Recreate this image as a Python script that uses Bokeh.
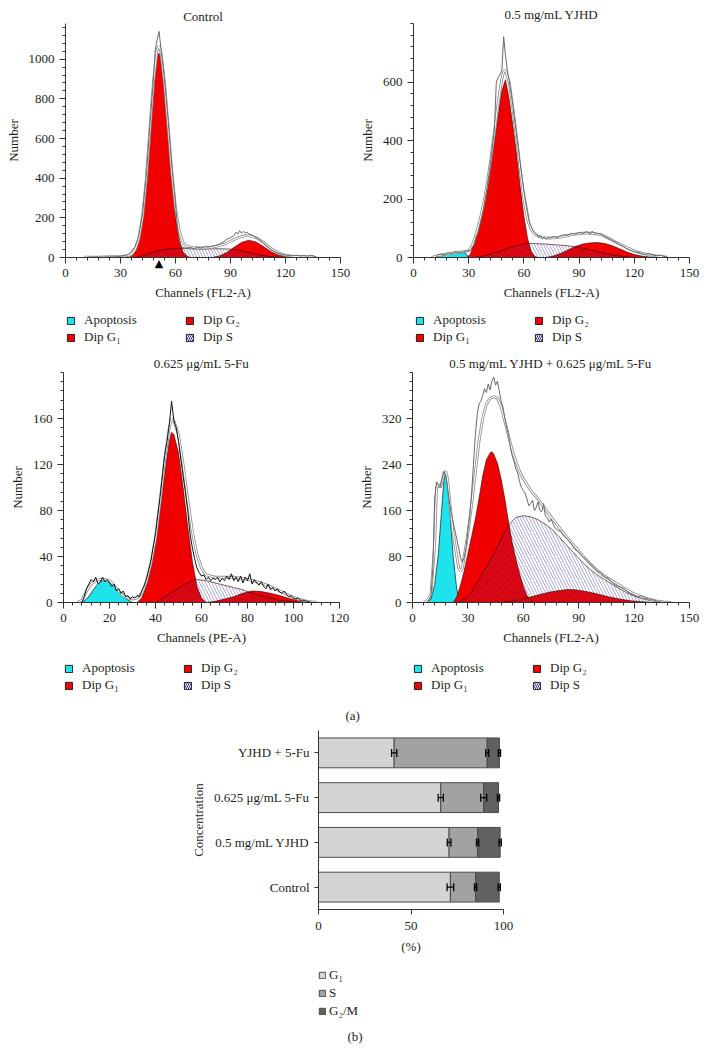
import numpy as np
from bokeh.plotting import figure
from bokeh.layouts import column, row
from bokeh.models import (Range1d, FactorRange, FixedTicker, Legend, LegendItem, Title, LinearAxis,
                          Whisker, TeeHead, ColumnDataSource)
from bokeh.embed import file_html
from bokeh.resources import INLINE

FONT = "Liberation Serif"
TXT = "#231f20"
RED = "#f00000"
CYAN = "#1ee3ec"
OUTL = "#3a0808"
HATCH = "#2a2a88"

# ---------------- data: Control ----------------
ctrl_g1 = [(34, 0), (36, 6), (38, 28), (40, 85), (42, 195), (44, 385), (46, 630), (48, 880), (50, 1020),
           (51, 1030), (52, 1005), (54, 850), (56, 620), (58, 390), (60, 205), (62, 90), (64, 30), (66, 8), (68, 0)]
ctrl_s = [(38, 0), (42, 8), (46, 20), (50, 32), (54, 41), (58, 45), (62, 46), (66, 45), (70, 43), (74, 42),
          (78, 43), (82, 44), (86, 44), (90, 42), (94, 37), (98, 29), (102, 21), (106, 13), (110, 7), (114, 3), (118, 0)]
ctrl_g2 = [(80, 0), (84, 8), (88, 25), (92, 52), (96, 76), (100, 87), (104, 78), (108, 55), (112, 30),
           (116, 12), (120, 4), (124, 0)]
ctrl_fit = [(10, 2), (20, 3), (30, 5), (34, 10), (36, 16), (38, 40), (40, 95), (42, 205), (44, 390), (46, 640),
            (48, 890), (50, 1050), (51, 1065), (52, 1040), (54, 880), (56, 660), (58, 430), (60, 250), (62, 135),
            (64, 78), (66, 56), (70, 50), (74, 48), (78, 50), (82, 56), (86, 66), (90, 82), (94, 100), (98, 110),
            (100, 110), (104, 100), (108, 76), (112, 46), (116, 24), (120, 12), (124, 6), (128, 4), (132, 3), (136, 2)]
ctrl_raw = [(12, 2), (16, 3), (20, 2), (24, 4), (26, 3), (28, 6), (30, 5), (32, 10), (34, 14), (35, 24), (36, 32),
            (38, 55), (40, 110), (42, 220), (44, 405), (46, 665), (48, 905), (49, 1050), (50, 1100), (51, 1140),
            (52, 1060), (54, 900), (56, 690), (58, 460), (60, 270), (61, 160), (62, 92), (63, 62), (64, 50), (66, 46),
            (68, 52), (70, 45), (72, 52), (74, 48), (76, 55), (78, 52), (80, 58), (82, 60), (84, 68), (86, 78),
            (88, 92), (90, 100), (92, 112), (93, 128), (94, 118), (95, 135), (96, 122), (97, 132), (98, 125),
            (99, 128), (100, 118), (102, 112), (104, 100), (106, 88), (108, 72), (110, 56), (112, 40), (114, 30),
            (116, 22), (118, 16), (120, 12), (122, 10), (124, 9), (126, 12), (128, 8), (130, 10), (132, 7),
            (134, 12), (136, 5), (137, 2)]
ctrl_marker_channel = 51

# ---------------- data: 0.5 mg/mL YJHD ----------------
yj_apop = [(12, 0), (14, 5), (16, 9), (18, 12), (20, 14), (22, 16), (24, 17), (26, 17), (28, 15), (29, 9), (30, 0)]
yj_g1 = [(29, 0), (31, 12), (34, 72), (36, 115), (38, 165), (40, 230), (42, 315), (44, 400), (46, 485), (48, 570),
         (50, 608), (52, 540), (54, 450), (56, 354), (58, 240), (60, 140), (62, 65), (64, 20), (66, 3), (68, 0)]
yj_s = [(34, 0), (40, 8), (46, 20), (52, 32), (56, 40), (60, 46), (64, 48), (68, 47), (72, 46), (76, 44), (80, 42),
        (84, 40), (88, 36), (92, 32), (96, 26), (100, 20), (104, 14), (108, 9), (112, 5), (116, 2), (120, 0)]
yj_g2 = [(72, 0), (76, 5), (80, 14), (84, 26), (88, 38), (92, 46), (96, 50), (100, 51), (104, 48), (108, 40),
         (112, 30), (116, 19), (120, 10), (124, 5), (128, 2), (132, 0)]
yj_fit = [(10, 0), (12, 5), (16, 10), (20, 14), (24, 18), (28, 20), (30, 24), (32, 42), (34, 80), (36, 125),
          (38, 180), (40, 250), (42, 335), (44, 430), (46, 530), (48, 610), (49, 635), (50, 640), (52, 600),
          (54, 510), (56, 410), (58, 300), (60, 200), (62, 130), (64, 95), (66, 80), (68, 72), (70, 68), (74, 66),
          (78, 68), (82, 72), (86, 78), (90, 82), (94, 84), (98, 82), (102, 78), (106, 66), (110, 52), (114, 40),
          (118, 28), (122, 18), (126, 12), (130, 7), (134, 4), (138, 1)]
yj_raw = [(12, 2), (13, 8), (15, 12), (17, 10), (19, 15), (21, 14), (23, 19), (25, 16), (27, 20), (29, 22),
          (31, 25), (33, 45), (34, 72), (35, 82), (36, 110), (38, 165), (40, 240), (42, 330), (44, 440), (45, 600),
          (46, 615), (47, 625), (48, 640), (49, 755), (50, 690), (51, 640), (52, 605), (54, 520), (56, 420),
          (58, 320), (60, 230), (62, 160), (63, 120), (64, 105), (65, 92), (66, 85), (67, 78), (68, 70), (69, 74),
          (70, 64), (71, 70), (72, 62), (73, 68), (74, 66), (76, 72), (78, 68), (80, 74), (82, 78), (84, 76),
          (86, 82), (88, 80), (90, 86), (92, 82), (94, 88), (96, 80), (97, 90), (98, 85), (100, 82), (102, 80),
          (104, 72), (106, 66), (108, 58), (110, 52), (112, 44), (114, 38), (116, 30), (118, 24), (120, 20),
          (122, 17), (124, 14), (126, 10), (128, 13), (130, 8), (132, 6), (134, 8), (136, 4), (138, 1)]

# ---------------- data: 0.625 ug/mL 5-Fu ----------------
fu_apop = [(8, 0), (10, 3), (12, 8), (14, 14), (16, 18), (18, 20), (20, 19), (22, 15), (24, 10), (26, 6), (28, 2), (30, 0)]
fu_g1 = [(32, 0), (34, 4), (36, 14), (38, 30), (40, 52), (42, 80), (44, 112), (46, 140), (47, 148), (48, 146),
         (50, 130), (52, 100), (54, 66), (56, 36), (58, 14), (60, 4), (62, 0)]
fu_s = [(40, 0), (44, 5), (48, 10), (52, 15), (56, 19), (58, 20), (62, 19), (66, 17), (70, 15), (74, 13),
        (78, 11), (82, 8), (86, 6), (90, 4), (94, 2), (98, 1), (102, 0)]
fu_g2 = [(62, 0), (66, 1), (70, 3), (74, 5), (78, 8), (82, 10), (86, 9.5), (90, 8), (94, 6), (98, 3.5),
         (102, 1.5), (106, 0)]
fu_fit = [(6, 0), (8, 2), (10, 10), (12, 16), (14, 19), (16, 20), (18, 20), (20, 19), (22, 15), (24, 10), (26, 6),
          (28, 4), (30, 3), (32, 4), (34, 8), (36, 18), (38, 34), (40, 56), (42, 88), (44, 124), (46, 152),
          (47, 160), (48, 158), (50, 146), (52, 120), (54, 90), (56, 62), (58, 42), (60, 30), (62, 24), (66, 22),
          (70, 22), (74, 22), (78, 21), (82, 19), (86, 17), (90, 14), (94, 10), (98, 6), (102, 3), (106, 1), (110, 0)]
fu_raw = [(8, 0), (9, 5), (10, 12), (11, 16), (12, 20), (13, 18), (14, 22), (15, 16), (16, 18), (17, 22), (18, 18),
          (19, 20), (20, 17), (21, 14), (22, 16), (23, 10), (24, 12), (25, 8), (26, 10), (27, 5), (28, 6), (29, 3),
          (30, 5), (31, 4), (32, 6), (33, 5), (34, 10), (35, 14), (36, 20), (38, 36), (40, 60), (42, 92), (44, 128),
          (45, 140), (46, 155), (47, 175), (48, 158), (49, 152), (50, 140), (51, 125), (52, 110), (53, 96),
          (54, 80), (55, 60), (56, 48), (57, 38), (58, 30), (59, 26), (60, 23), (61, 24), (62, 20), (63, 22),
          (64, 19), (65, 21), (66, 20), (67, 22), (68, 18), (69, 21), (70, 19), (71, 23), (72, 20), (73, 25),
          (74, 19), (75, 22), (76, 18), (77, 23), (78, 17), (79, 22), (80, 19), (81, 25), (82, 16), (83, 20),
          (84, 17), (85, 15), (86, 18), (87, 14), (88, 12), (89, 16), (90, 11), (91, 13), (92, 10), (93, 12),
          (94, 9), (95, 8), (96, 10), (97, 7), (98, 5), (99, 6), (100, 4), (101, 3), (102, 4), (103, 2),
          (104, 2), (106, 1), (108, 0)]

# ---------------- data: YJHD + 5-Fu ----------------
cb_apop = [(8, 0), (10, 6), (12, 30), (14, 85), (16, 170), (17, 212), (18, 229), (19, 212), (20, 170), (22, 80),
           (24, 22), (25, 8), (26, 0)]
cb_g1 = [(22, 0), (24, 10), (26, 30), (28, 55), (30, 85), (32, 115), (34, 145), (36, 180), (38, 220), (40, 248),
         (42, 260), (43, 262), (44, 258), (46, 242), (48, 215), (50, 180), (52, 140), (54, 104), (56, 75),
         (58, 50), (60, 28), (62, 12), (64, 4), (66, 0)]
cb_s = [(24, 0), (28, 6), (32, 18), (36, 40), (40, 62), (44, 84), (48, 110), (52, 135), (56, 148), (60, 151),
        (64, 149), (68, 144), (72, 136), (76, 126), (80, 112), (84, 98), (88, 84), (92, 70), (96, 58), (100, 48),
        (104, 40), (108, 32), (112, 24), (116, 17), (120, 11), (124, 7), (128, 4), (132, 2), (136, 0)]
cb_g2 = [(48, 0), (56, 3), (62, 8), (68, 13), (74, 18), (80, 21), (84, 22.5), (88, 22), (94, 19), (100, 15),
         (106, 10), (112, 6), (118, 3), (124, 1.5), (130, 0)]
cb_fit = [(6, 0), (8, 3), (10, 15), (12, 100), (13, 200), (14, 205), (15, 200), (16, 210), (17, 225), (18, 228),
          (19, 215), (20, 180), (21, 150), (22, 120), (23, 100), (24, 80), (25, 60), (26, 55), (27, 60), (28, 80),
          (30, 120), (32, 170), (34, 225), (36, 280), (38, 320), (40, 345), (42, 355), (44, 358), (46, 355),
          (48, 340), (50, 315), (52, 290), (54, 265), (56, 245), (58, 228), (60, 215), (62, 205), (64, 195),
          (68, 180), (72, 162), (76, 145), (80, 128), (84, 112), (88, 97), (92, 82), (96, 68), (100, 56), (104, 46),
          (108, 38), (112, 30), (116, 22), (120, 15), (124, 10), (128, 6), (132, 3), (136, 1), (140, 0)]
cb_raw = [(8, 0), (10, 10), (11, 60), (12, 180), (13, 210), (14, 205), (15, 200), (16, 215), (17, 228), (18, 222),
          (19, 200), (20, 175), (21, 155), (22, 140), (23, 125), (24, 110), (25, 95), (26, 78), (27, 70), (28, 78),
          (29, 95), (30, 125), (31, 150), (32, 190), (33, 240), (34, 290), (35, 325), (36, 345), (37, 350),
          (38, 360), (39, 372), (40, 365), (41, 380), (42, 370), (43, 385), (44, 392), (45, 378), (46, 385),
          (47, 368), (48, 350), (49, 340), (50, 320), (51, 305), (52, 290), (53, 270), (54, 255), (55, 245),
          (56, 232), (57, 225), (58, 210), (59, 200), (60, 195), (61, 190), (62, 180), (63, 168), (64, 172),
          (65, 178), (66, 160), (67, 165), (68, 175), (69, 160), (70, 158), (71, 172), (72, 150), (73, 148),
          (74, 140), (75, 145), (76, 138), (77, 130), (78, 128), (79, 124), (80, 125), (82, 115), (84, 110),
          (86, 102), (88, 92), (90, 88), (92, 80), (94, 75), (96, 68), (98, 62), (100, 55), (102, 52), (104, 45),
          (106, 42), (108, 35), (110, 30), (112, 27), (114, 25), (116, 20), (118, 15), (120, 13), (122, 10),
          (124, 12), (126, 8), (128, 6), (130, 5), (132, 3), (134, 1), (136, 0)]

# ---------------- data: bar chart ----------------
bar_cats = ["Control", "0.5 mg/mL YJHD", "0.625 \u03bcg/mL 5-Fu", "YJHD + 5-Fu"]
g1_pct = [71.3, 70.6, 66.1, 40.9]
s_pct = [13.6, 15.4, 23.2, 50.3]
g2m_pct = [12.8, 12.2, 8.0, 6.6]
g1_err = [1.8, 1.0, 1.4, 1.4]
s_err = [0.6, 0.6, 1.6, 0.8]
g2m_err = [0.6, 0.6, 0.6, 0.6]
BAR_COLORS = ["#d4d4d4", "#a2a2a2", "#616161"]


def xy(pts):
    return [p[0] for p in pts], [p[1] for p in pts]


def style_axis(ax, tick_out=6, minor_out=3):
    ax.axis_line_color = "#333333"
    ax.axis_line_width = 1
    ax.major_tick_line_color = "#333333"
    ax.minor_tick_line_color = "#333333"
    ax.major_tick_out = tick_out
    ax.major_tick_in = 0
    ax.minor_tick_out = minor_out
    ax.minor_tick_in = 0
    ax.major_label_text_font = FONT
    ax.major_label_text_font_size = "13px"
    ax.major_label_text_color = TXT
    ax.axis_label_text_font = FONT
    ax.axis_label_text_font_size = "13px"
    ax.axis_label_text_font_style = "normal"
    ax.axis_label_text_color = TXT
    ax.major_label_standoff = 5
    ax.axis_label_standoff = 5


def style_title(t, standoff):
    t.standoff = standoff
    t.text_font = FONT
    t.text_font_size = "13px"
    t.text_font_style = "normal"
    t.text_color = TXT


def hist_panel(title, xlabel, x_end, y_end, xstep, xminor, ystep, ylast, yminor,
               apop, g1, s, g2, fit, raw, raw_color,
               width, height, left, right, top, frame_h, title_standoff, marker=None):
    p = figure(width=width, height=height, x_range=Range1d(0, x_end), y_range=Range1d(0, y_end),
               output_backend="svg", toolbar_location=None,
               min_border_left=left, min_border_right=right, min_border_top=top,
               min_border_bottom=height - top - frame_h)
    p.outline_line_color = None
    p.grid.visible = False
    p.background_fill_color = "white"
    p.border_fill_color = "white"

    p.title.text = title
    p.title.align = "center"
    p.title.offset = -3
    style_title(p.title, title_standoff)

    p.xaxis.ticker = FixedTicker(ticks=list(range(0, x_end + 1, xstep)),
                                 minor_ticks=list(range(0, x_end + 1, xminor)))
    p.yaxis.ticker = FixedTicker(ticks=list(range(0, ylast + 1, ystep)),
                                 minor_ticks=list(range(0, y_end + 1, yminor)))
    p.xaxis.axis_label = xlabel
    p.yaxis.axis_label = "Number"
    style_axis(p.xaxis[0])
    style_axis(p.yaxis[0])

    if apop is not None:
        ax_, ay_ = xy(apop)
        p.varea(x=ax_, y1=0, y2=ay_, fill_color=CYAN)
        p.line(ax_, ay_, line_color="#0b3b3b", line_width=0.8)
    gx, gy = xy(g1)
    p.varea(x=gx, y1=0, y2=gy, fill_color=RED)
    g2x, g2y = xy(g2)
    p.varea(x=g2x, y1=0, y2=g2y, fill_color=RED)
    sx, sy = xy(s)
    p.varea(x=sx, y1=0, y2=sy, fill_alpha=0, hatch_pattern="\\", hatch_color=HATCH,
            hatch_alpha=0.5, hatch_scale=6, hatch_weight=0.8)
    for cx, cy in ((gx, gy), (g2x, g2y), (sx, sy)):
        p.line(cx, cy, line_color=OUTL, line_width=0.8, line_alpha=0.8)
    fx, fy = xy(fit)
    p.line(fx, fy, line_color="#909090", line_width=2.8)
    p.line(fx, fy, line_color="white", line_width=1.1)
    rx, ry = xy(raw)
    p.line(rx, ry, line_color=raw_color, line_width=1)

    if marker is not None:
        # marker below the axis line, drawn as the single label of an extra (line-less) axis
        mk = LinearAxis(ticker=FixedTicker(ticks=[marker]), major_label_overrides={marker: "\u25b2"},
                        axis_line_color=None, major_tick_line_color=None, minor_tick_line_color=None,
                        major_tick_out=0, major_tick_in=0, minor_tick_out=0, minor_tick_in=0,
                        major_label_standoff=-46, major_label_text_font="DejaVu Sans",
                        major_label_text_font_size="11px", major_label_text_color="black")
        p.add_layout(mk, "below")
    return p


def hist_legend(width, height, left, top):
    f = figure(width=width, height=height, x_range=Range1d(0, 1), y_range=Range1d(0, 1),
               x_axis_location=None, y_axis_location=None, output_backend="svg", toolbar_location=None,
               min_border_left=left, min_border_right=0, min_border_top=top, min_border_bottom=0)
    f.outline_line_color = None
    f.grid.visible = False
    # legend proxies, placed outside the visible range
    kw = dict(left=[2], right=[3], bottom=[2], top=[3], line_color="#222222", line_width=1)
    r_a = f.quad(fill_color=CYAN, **kw)
    r_g1 = f.quad(fill_color=RED, **kw)
    r_g2 = f.quad(fill_color=RED, **kw)
    r_s = f.quad(fill_color="white", hatch_pattern="\\", hatch_color="#333399", hatch_scale=4,
                 hatch_weight=1, **kw)
    legend = Legend(items=[LegendItem(label="Apoptosis", renderers=[r_a]),
                           LegendItem(label="Dip G\u2081", renderers=[r_g1]),
                           LegendItem(label="Dip G\u2082", renderers=[r_g2]),
                           LegendItem(label="Dip S", renderers=[r_s])],
                    location="top_left", orientation="vertical", nrows=2,
                    glyph_width=9, glyph_height=9, label_standoff=9, label_width=100,
                    label_height=16, spacing=1, padding=0, margin=0,
                    border_line_color=None, background_fill_alpha=0,
                    label_text_font=FONT, label_text_font_size="13px", label_text_color=TXT)
    f.add_layout(legend)
    return f


p1 = hist_panel("Control", "Channels (FL2-A)", 150, 1180, 30, 6, 200, 1000, 40,
                None, ctrl_g1, ctrl_s, ctrl_g2, ctrl_fit, ctrl_raw, "#6a6a6a",
                350, 312, 65, 10, 18, 239, 0, marker=ctrl_marker_channel)
p2 = hist_panel("0.5 mg/mL YJHD", "Channels (FL2-A)", 150, 800, 30, 6, 200, 600, 40,
                yj_apop, yj_g1, yj_s, yj_g2, yj_fit, yj_raw, "#6a6a6a",
                357, 312, 63, 18, 23, 234, 3)
p3 = hist_panel("0.625 \u03bcg/mL 5-Fu", "Channels (PE-A)", 120, 200, 20, 4, 40, 160, 8,
                fu_apop, fu_g1, fu_s, fu_g2, fu_fit, fu_raw, "#111111",
                350, 298, 63, 11, 22, 230, 3)
p4 = hist_panel("0.5 mg/mL YJHD + 0.625 \u03bcg/mL 5-Fu", "Channels (FL2-A)", 150, 400, 30, 6, 80, 320, 16,
                cb_apop, cb_g1, cb_s, cb_g2, cb_fit, cb_raw, "#6a6a6a",
                357, 298, 62, 18, 22, 232, 3)

l1 = hist_legend(350, 38, 66, 0)
l2 = hist_legend(357, 38, 65, 0)
l3 = hist_legend(350, 49, 64, 11)
l4 = hist_legend(357, 49, 63, 12)

# ---------------- bar chart ----------------
pb = figure(width=707, height=263, y_range=FactorRange(factors=bar_cats), x_range=Range1d(0, 100),
            output_backend="svg", toolbar_location=None,
            min_border_left=318, min_border_right=204, min_border_top=33, min_border_bottom=51)
pb.outline_line_color = None
pb.grid.visible = False
src = ColumnDataSource(dict(cat=bar_cats, g1=g1_pct, s=s_pct, g2m=g2m_pct))
bars = pb.hbar_stack(["g1", "s", "g2m"], y="cat", height=0.667,
                     fill_color=BAR_COLORS, line_color="#4a4a4a", line_width=1, source=src)
g1_end = np.array(g1_pct)
s_end = g1_end + np.array(s_pct)
g2_end = s_end + np.array(g2m_pct)
for ends, errs in ((g1_end, g1_err), (s_end, s_err), (g2_end, g2m_err)):
    errs = np.array(errs)
    wsrc = ColumnDataSource(dict(cat=bar_cats, lo=ends - errs, hi=ends + errs))
    pb.add_layout(Whisker(source=wsrc, base="cat", lower="lo", upper="hi", dimension="width",
                          line_color="black", line_width=1.3, level="overlay",
                          upper_head=TeeHead(size=8, line_color="black", line_width=1.3),
                          lower_head=TeeHead(size=8, line_color="black", line_width=1.3)))
pb.xaxis.ticker = FixedTicker(ticks=[0, 50, 100])
pb.xaxis.axis_label = "(%)"
pb.yaxis.axis_label = "Concentration"
style_axis(pb.xaxis[0], tick_out=5, minor_out=0)
style_axis(pb.yaxis[0], tick_out=4, minor_out=0)
pb.xaxis.minor_tick_line_color = None
pb.xaxis.major_label_standoff = 7
pb.xaxis.axis_label_standoff = 6
pb.yaxis.major_label_standoff = 5
pb.title.text = "(a)"
pb.title.align = "left"
pb.title.offset = 27
style_title(pb.title, 15)

lb = figure(width=707, height=90, x_range=Range1d(0, 1), y_range=Range1d(0, 1),
            x_axis_location=None, y_axis_location=None, output_backend="svg", toolbar_location=None,
            min_border_left=317, min_border_right=0, min_border_top=6, min_border_bottom=28)
lb.outline_line_color = None
lb.grid.visible = False
proxies = [lb.quad(left=[2], right=[3], bottom=[2], top=[3], fill_color=c, line_color="#4a4a4a", line_width=1)
           for c in BAR_COLORS]
bleg = Legend(items=[LegendItem(label="G\u2081", renderers=[proxies[0]]),
                     LegendItem(label="S", renderers=[proxies[1]]),
                     LegendItem(label="G\u2082/M", renderers=[proxies[2]])],
              location="top_left", orientation="vertical",
              glyph_width=8, glyph_height=8, label_standoff=3, label_height=18, spacing=0,
              padding=0, margin=0, border_line_color=None, background_fill_alpha=0,
              label_text_font=FONT, label_text_font_size="13px", label_text_color=TXT)
lb.add_layout(bleg)
btitle = Title(text="(b)", align="left", offset=29)
style_title(btitle, 8)
lb.add_layout(btitle, "below")

layout = column(row(p1, p2), row(l1, l2), row(p3, p4), row(l3, l4), pb, lb)
open("out.html", "w").write(file_html(layout, INLINE))
